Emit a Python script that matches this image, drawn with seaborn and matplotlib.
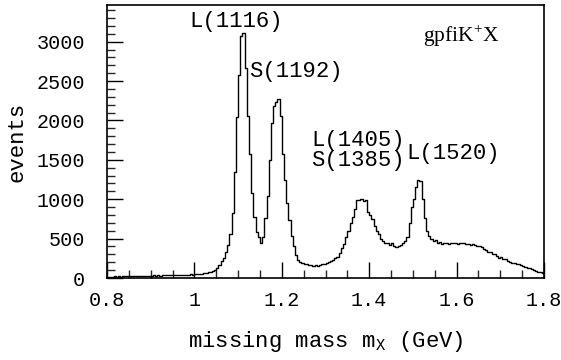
import numpy as np
import pandas as pd
import matplotlib
matplotlib.use("Agg")
import matplotlib.pyplot as plt
import seaborn as sns
from matplotlib.ticker import MultipleLocator

# ---- data (bin width 0.005 GeV, 0.80 - 1.80 GeV) ----
bin_lo = 0.80
bin_hi = 1.80
bin_width = 0.005
counts = [
    12, 18, 15, 20, 17, 22, 19, 24, 21, 25,
    23, 27, 22, 28, 26, 30, 25, 29, 31, 27,
    30, 33, 28, 35, 31, 34, 37, 32, 36, 34,
    38, 35, 40, 37, 42, 39, 44, 41, 45, 43,
    48, 50, 55, 52, 60, 65, 70, 80, 90, 105,
    125, 165, 210, 260, 330, 420, 560, 820, 1350, 2040,
    2580, 3070, 3110, 2660, 2060, 1580, 1080, 780, 580, 520,
    440, 520, 760, 1040, 1500, 1970, 2180, 2230, 2270, 2050,
    1580, 1240, 950, 740, 530, 400, 295, 230, 200, 185,
    178, 172, 165, 160, 150, 162, 155, 168, 175, 182,
    190, 205, 215, 230, 255, 270, 320, 375, 430, 520,
    600, 700, 780, 880, 990, 985, 1000, 975, 985, 840,
    800, 750, 660, 600, 560, 490, 470, 440, 450, 425,
    450, 400, 395, 410, 425, 445, 470, 520, 700, 900,
    1000, 1160, 1240, 1230, 1000, 760, 600, 530, 500, 470,
    480, 440, 455, 435, 450, 440, 430, 445, 438, 440,
    432, 445, 440, 438, 430, 435, 425, 430, 420, 408,
    400, 390, 370, 352, 335, 330, 300, 305, 275, 260,
    265, 235, 240, 215, 205, 195, 190, 180, 172, 160,
    152, 140, 132, 125, 110, 100, 92, 82, 75, 62,
]
x_ticks = [0.8, 1.0, 1.2, 1.4, 1.6, 1.8]
x_tick_labels = ["0.8", "1", "1.2", "1.4", "1.6", "1.8"]
y_ticks = [0, 500, 1000, 1500, 2000, 2500, 3000]
peak_labels = ["L(1116)", "S(1192)", "L(1405)", "S(1385)", "L(1520)"]
peak_label_x = [1.095, 1.232, 1.374, 1.374, 1.592]
peak_label_y = [3250, 2620, 1750, 1497, 1574]
reaction_label = r"gpfiK$^{\mathrm{+}}$X"

n_bins = len(counts)
centers = bin_lo + bin_width * (np.arange(n_bins) + 0.5)
df = pd.DataFrame({"mass": centers, "events": np.asarray(counts, dtype=float)})

sns.set_theme(style="ticks")
plt.rcParams["font.family"] = ["Liberation Mono", "DejaVu Sans"]
plt.rcParams["mathtext.fontset"] = "custom"
plt.rcParams["mathtext.rm"] = "Liberation Serif"
plt.rcParams["mathtext.tt"] = "Liberation Mono"

fig = plt.figure(figsize=(5.61, 3.60), dpi=100)
ax = fig.add_axes([107 / 561, 1 - 278 / 360, (544 - 107) / 561, (278 - 5) / 360])

sns.histplot(data=df, x="mass", weights="events", binwidth=bin_width,
             binrange=(bin_lo, bin_hi), element="step", fill=False,
             color="black", linewidth=1.0, ax=ax)

ax.set_xlim(bin_lo, bin_hi)
ax.set_ylim(0, 3465)
ax.set_xticks(x_ticks)
ax.set_xticklabels(x_tick_labels)
ax.set_yticks(y_ticks)
ax.xaxis.set_minor_locator(MultipleLocator(0.05))
ax.yaxis.set_minor_locator(MultipleLocator(100))
ax.tick_params(which="major", direction="in", length=11.5, width=1.0,
               labelsize=14.5, colors="black")
ax.tick_params(axis="x", which="major", pad=9)
ax.tick_params(axis="y", which="major", pad=16)
ax.tick_params(which="minor", direction="in", length=5.8, width=1.0)
ax.tick_params(top=False, right=False, which="both")
for s in ax.spines.values():
    s.set_visible(True)
    s.set_color("black")
    s.set_linewidth(1.2)

ax.set_xlabel(r"missing mass m$_{\mathtt{X}}$ (GeV)", fontsize=16, labelpad=14, color="black")
ax.set_ylabel("events", fontsize=16, labelpad=6, color="black")

for lab, lx, ly in zip(peak_labels, peak_label_x, peak_label_y):
    ax.text(lx, ly, lab, ha="center", va="center", fontsize=16, color="black")
ax.text(1.61, 3071, reaction_label, ha="center", va="center", fontsize=15.5,
        family="Liberation Serif", color="black")

fig.savefig("out.png", dpi=100)
